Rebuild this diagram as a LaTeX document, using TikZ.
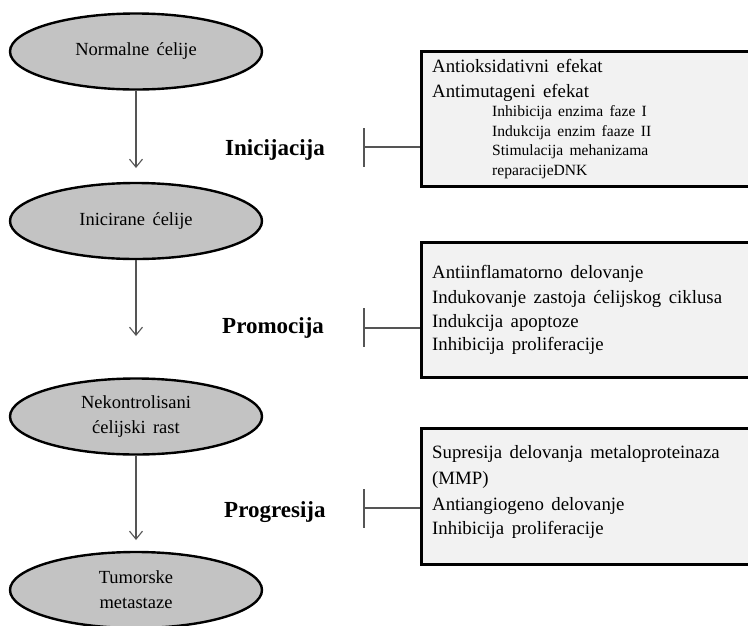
\documentclass[tikz,border=0pt]{standalone}
\usepackage{fontspec}
\setmainfont{Liberation Serif}[WordSpace=1.6]
\usetikzlibrary{shapes.geometric,arrows.meta}
\definecolor{ellfill}{HTML}{C3C3C3}
\definecolor{boxfill}{HTML}{F2F2F2}
\definecolor{linegray}{HTML}{555555}
\tikzset{
  ell/.style={ellipse, draw=black, line width=2.4pt, fill=ellfill, minimum width=252pt, minimum height=76pt, inner sep=0pt, align=center, font=\fontsize{18.5}{25}\selectfont},
  bigbox/.style={rectangle, draw=black, line width=3pt, fill=boxfill, anchor=north west, minimum width=345pt, inner sep=0pt},
  arr/.style={draw=linegray, line width=1.1pt, -{Straight Barb[length=8pt,width=13pt]}},
  brk/.style={draw=linegray, line width=1.3pt},
  phase/.style={anchor=base west, inner sep=0pt, font=\fontsize{23}{27}\selectfont\bfseries},
  txt/.style={anchor=base west, inner sep=0pt, font=\fontsize{18.8}{22}\selectfont},
  subtxt/.style={anchor=base west, inner sep=0pt, font=\fontsize{15.6}{20}\selectfont}
}
\begin{document}
\begin{tikzpicture}[x=1pt,y=-1pt]
\useasboundingbox (0,0) rectangle (748,625);
\clip (0,0) rectangle (748,625);
\fill[white] (0,0) rectangle (748,625);

% ellipses
\node[ell] (e1) at (136,51.5) {Normalne ćelije};
\node[ell] (e2) at (136,221) {Inicirane ćelije};
\node[ell] (e3) at (136,416.5) {Nekontrolisani\\ćelijski rast};
\node[ell] (e4) at (136,590) {Tumorske\\metastaze};

% arrows
\coordinate (t1) at (136,168);
\coordinate (t2) at (136,336);
\coordinate (t3) at (136,540);
\draw[arr] (e1.south) -- (t1);
\draw[arr] (e2.south) -- (t2);
\draw[arr] (e3.south) -- (t3);

% phase labels
\node[phase] (p1) at (225,155) {Inicijacija};
\node[phase] (p2) at (222,333) {Promocija};
\node[phase] (p3) at (224,517) {Progresija};

% boxes
\node[bigbox, minimum height=135pt] (box1) at (420,50) {};
\node[bigbox, minimum height=135pt] (box2) at (420,241) {};
\node[bigbox, minimum height=136pt] (box3) at (420,427) {};

% brackets
\coordinate (b1a) at (364,128); \coordinate (b1b) at (364,167); \coordinate (b1m) at (364,147);
\coordinate (b2a) at (364,308); \coordinate (b2b) at (364,347); \coordinate (b2m) at (364,328);
\coordinate (b3a) at (364,489); \coordinate (b3b) at (364,528); \coordinate (b3m) at (364,508);
\draw[brk] (b1a) -- (b1b);
\draw[brk] (b1m) -- (b1m -| box1.west);
\draw[brk] (b2a) -- (b2b);
\draw[brk] (b2m) -- (b2m -| box2.west);
\draw[brk] (b3a) -- (b3b);
\draw[brk] (b3m) -- (b3m -| box3.west);

% box 1 text
\node[txt] (a1) at (432,72) {Antioksidativni efekat};
\node[txt] (a2) at (432,97) {Antimutageni efekat};
\node[subtxt] (a3) at (492,116) {Inhibicija enzima faze I};
\node[subtxt] (a4) at (492,136) {Indukcija enzim faaze II};
\node[subtxt] (a5) at (492,155) {Stimulacija mehanizama};
\node[subtxt] (a6) at (492,175) {reparacijeDNK};

% box 2 text
\node[txt] (c1) at (432,278) {Antiinflamatorno delovanje};
\node[txt] (c2) at (432,303) {Indukovanje zastoja ćelijskog ciklusa};
\node[txt] (c3) at (432,327) {Indukcija apoptoze};
\node[txt] (c4) at (432,350) {Inhibicija proliferacije};

% box 3 text
\node[txt] (d1) at (432,458) {Supresija delovanja metaloproteinaza};
\node[txt] (d2) at (432,484) {(MMP)};
\node[txt] (d3) at (432,510) {Antiangiogeno delovanje};
\node[txt] (d4) at (432,534) {Inhibicija proliferacije};
\end{tikzpicture}
\end{document}
